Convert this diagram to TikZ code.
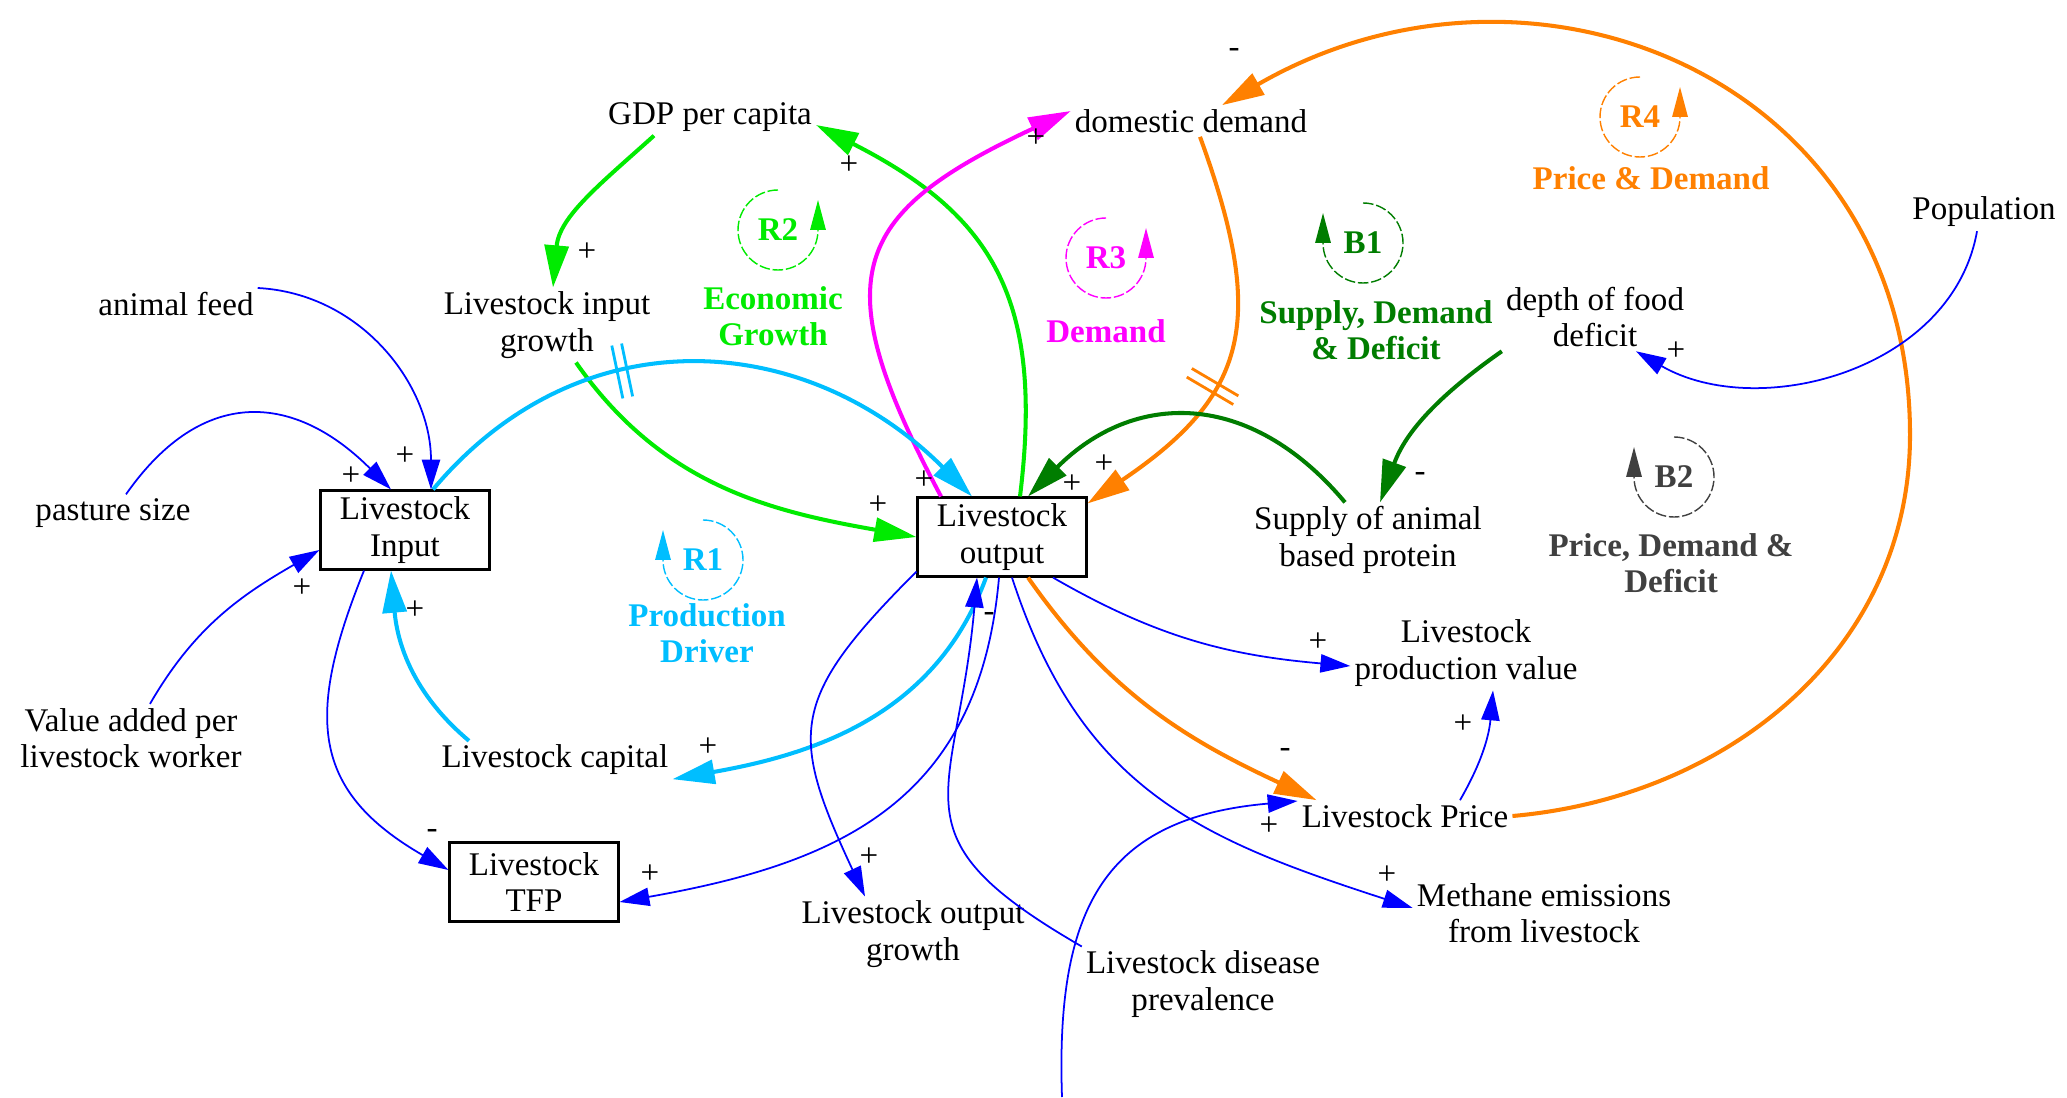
\documentclass[tikz,border=0pt]{standalone}
\usepackage{fontspec}
\setmainfont{Liberation Serif}
\usetikzlibrary{arrows.meta, decorations.markings}

\definecolor{lgreen}{RGB}{0,235,0}
\definecolor{dgreen}{RGB}{0,125,0}
\definecolor{lblue}{RGB}{0,190,255}
\definecolor{lorange}{RGB}{255,128,0}
\definecolor{lmagenta}{RGB}{255,0,255}
\definecolor{lgray}{RGB}{64,64,64}
\definecolor{lnblue}{RGB}{0,0,255}
\newcommand{\cldfont}{\fontsize{9.4}{10.4}\selectfont}

\begin{document}
\begin{tikzpicture}[
  font=\cldfont,
  var/.style={inner sep=1pt, align=center},
  stockbox/.style={draw, line width=0.6pt, minimum width=16.9mm, minimum height=7.9mm, inner sep=0pt, align=center},
  sgn/.style={inner sep=0pt},
  bluelink/.style={lnblue, line width=0.5pt, -{Triangle[length=8.5pt, width=5.2pt]}},
  thicklink/.style={line width=1.15pt, -{Triangle[length=12pt, width=6.8pt]}},
  loopid/.style={inner sep=0pt, font=\cldfont\bfseries},
  looplbl/.style={inner sep=0pt, align=center, font=\cldfont\bfseries},
  looparc/.style={line width=0.4pt, dash pattern=on 3pt off 0.8pt, -{Triangle[length=8.5pt, width=4.4pt]}},
  delaymark/.style={postaction={decorate}, decoration={markings, mark=at position #1 with {\draw[-, line width=0.8pt] (-0.5mm,-2.7mm) -- (-0.5mm,2.7mm) (0.5mm,-2.7mm) -- (0.5mm,2.7mm);}}}
]
\useasboundingbox (0,0) rectangle (20.67,-10.97);

% variables
\node[var] (gdp) at (7.10,-1.17) {GDP per capita};
\node[var] (dom) at (11.91,-1.21) {domestic demand};
\node[var] (feed) at (1.76,-3.04) {animal feed};
\node[var] (lig) at (5.47,-3.25) {Livestock input\\growth};
\node[var] (past) at (1.13,-5.13) {pasture size};
\node[stockbox] (lin) at (4.05,-5.30) {Livestock\\Input};
\node[var] (vadd) at (1.31,-7.38) {Value added per\\livestock worker};
\node[var] (cap) at (5.55,-7.60) {Livestock capital};
\node[stockbox] (tfp) at (5.34,-8.82) {Livestock\\TFP};
\node[stockbox] (lout) at (10.02,-5.37) {Livestock\\output};
\node[var] (outg) at (9.13,-9.34) {Livestock output\\growth};
\node[var] (dis) at (12.03,-9.84) {Livestock disease\\prevalence};
\node[var] (sup) at (13.68,-5.40) {Supply of animal\\based protein};
\node[var] (dep) at (15.95,-3.17) {depth of food\\deficit};
\node[var] (pop) at (19.84,-2.12) {Population};
\node[var] (lpv) at (14.66,-6.53) {Livestock\\production value};
\node[var] (price) at (14.05,-8.16) {Livestock Price};
\node[var] (meth) at (15.44,-9.13) {Methane emissions\\from livestock};
\coordinate (ext) at (10.62,-10.97);
\coordinate (arcr) at (19.10,-4.35);

% thick links
\draw[thicklink, lgreen] ([xshift=-5.6mm]gdp.south) to[out=222, in=85] ([xshift=0.6mm]lig.north);
\draw[thicklink, lgreen] ([xshift=2.9mm]lig.south) to[out=-55, in=170] (lout.west);
\draw[thicklink, lgreen] ([xshift=1.8mm]lout.north) to[out=83, in=-27, looseness=1.2] ([yshift=-0.8mm]gdp.east);
\draw[thicklink, lmagenta] ([xshift=-6.1mm]lout.north) to[out=118, in=205, looseness=1.55] ([yshift=1mm]dom.west);
\draw[thicklink, lorange, delaymark=0.6] ([xshift=0.9mm]dom.south) to[out=-70, in=34, looseness=1.3] ([yshift=-0.7mm]lout.north east);
\draw[thicklink, lorange] ([xshift=2.6mm]lout.south) to[out=-55, in=155] ([xshift=1.9mm]price.north west);
\draw[thicklink, lorange] (price.east) to[out=5, in=-90] (arcr) to[out=90, in=30, looseness=1.2] ([xshift=3.1mm]dom.north);
\draw[thicklink, dgreen] ([xshift=-2.3mm]sup.north) to[out=130, in=45, looseness=1.2] ([xshift=2.6mm]lout.north);
\draw[thicklink, dgreen] (dep.south west) to[out=-145, in=70] ([xshift=1.2mm]sup.north);
\draw[thicklink, lblue, delaymark=0.37] ([xshift=2.8mm]lin.north) to[out=50, in=135, looseness=1.1] ([xshift=-3mm]lout.north);
\draw[thicklink, lblue] ([xshift=-1.6mm]lout.south) to[out=-110, in=10] (cap.south east);
\draw[thicklink, lblue] ([xshift=-8.6mm]cap.north) to[out=140, in=-85] ([xshift=-1.4mm]lin.south);

% thin links
\draw[bluelink] (feed.north east) to[out=-3, in=90] ([xshift=2.6mm]lin.north);
\draw[bluelink] ([xshift=1.3mm]past.north) to[out=55, in=135, looseness=1.3] ([xshift=-1.4mm]lin.north);
\draw[bluelink] ([xshift=1.9mm]vadd.north) to[out=60, in=-150] ([yshift=-2mm]lin.west);
\draw[bluelink] ([xshift=-4.1mm]lin.south) to[out=-112, in=150, looseness=1.3] ([yshift=1.2mm]tfp.west);
\draw[bluelink] ([xshift=-0.3mm]lout.south) to[out=-95, in=10, looseness=1.15] ([yshift=-2mm]tfp.east);
\draw[bluelink] ([yshift=0.6mm]lout.south west) to[out=-135, in=115, looseness=1.4] ([xshift=-4.8mm]outg.north);
\draw[bluelink] (dis.north west) to[out=150, in=-95, looseness=1.5] ([xshift=-2.5mm]lout.south);
\draw[bluelink] ([xshift=1mm]lout.south) to[out=-72, in=162, looseness=1.1] ([yshift=0.5mm]meth.west);
\draw[bluelink] ([xshift=5.1mm]lout.south) to[out=-30, in=175] ([yshift=-1.3mm]lpv.west);
\draw[bluelink] ([xshift=5.5mm]price.north) to[out=60, in=-95] ([xshift=2.7mm]lpv.south);
\draw[bluelink] (ext) to[out=92, in=185, looseness=1.3] ([yshift=1.5mm]price.west);
\draw[bluelink] ([xshift=-0.7mm]pop.south) to[out=-100, in=-30] ([xshift=4.1mm]dep.south);

% polarities
\node[sgn] (s1) at (5.87,-2.52) {+};
\node[sgn] (s2) at (8.78,-5.05) {+};
\node[sgn] (s3) at (8.49,-1.65) {+};
\node[sgn] (s4) at (10.36,-1.38) {+};
\node[sgn] (s5) at (11.04,-4.64) {+};
\node[sgn] (s6) at (10.72,-4.84) {+};
\node[sgn] (s7) at (9.24,-4.80) {+};
\node[sgn] (s8) at (14.20,-4.77) {-};
\node[sgn] (s9) at (12.34,-0.53) {-};
\node[sgn] (s10) at (12.85,-7.53) {-};
\node[sgn] (s11) at (12.69,-8.26) {+};
\node[sgn] (s12) at (14.63,-7.24) {+};
\node[sgn] (s13) at (13.18,-6.42) {+};
\node[sgn] (s14) at (13.87,-8.75) {+};
\node[sgn] (s15) at (16.76,-3.51) {+};
\node[sgn] (s16) at (9.89,-6.17) {-};
\node[sgn] (s17) at (8.69,-8.57) {+};
\node[sgn] (s18) at (6.50,-8.74) {+};
\node[sgn] (s19) at (4.32,-8.34) {-};
\node[sgn] (s20) at (7.08,-7.47) {+};
\node[sgn] (s21) at (4.15,-6.10) {+};
\node[sgn] (s22) at (3.02,-5.88) {+};
\node[sgn] (s23) at (3.51,-4.76) {+};
\node[sgn] (s24) at (4.05,-4.56) {+};

% loop markers
\node[loopid, text=lgreen] (r2) at (7.78,-2.30) {R2};
\draw[looparc, lgreen] ([yshift=4mm]r2.center) arc[start angle=90, end angle=360, radius=4mm] -- ++(0,3mm);
\node[looplbl, text=lgreen] (r2l) at (7.73,-3.16) {Economic\\Growth};
\node[loopid, text=lmagenta] (r3) at (11.06,-2.58) {R3};
\draw[looparc, lmagenta] ([yshift=4mm]r3.center) arc[start angle=90, end angle=360, radius=4mm] -- ++(0,3mm);
\node[looplbl, text=lmagenta] (r3l) at (11.06,-3.31) {Demand};
\node[loopid, text=dgreen] (b1) at (13.63,-2.43) {B1};
\draw[looparc, dgreen] ([yshift=4mm]b1.center) arc[start angle=90, end angle=-180, radius=4mm] -- ++(0,3mm);
\node[looplbl, text=dgreen] (b1l) at (13.76,-3.30) {Supply, Demand\\\& Deficit};
\node[loopid, text=lorange] (r4) at (16.40,-1.17) {R4};
\draw[looparc, lorange] ([yshift=4mm]r4.center) arc[start angle=90, end angle=360, radius=4mm] -- ++(0,3mm);
\node[looplbl, text=lorange] (r4l) at (16.51,-1.78) {Price \& Demand};
\node[loopid, text=lgray] (b2) at (16.74,-4.77) {B2};
\draw[looparc, lgray] ([yshift=4mm]b2.center) arc[start angle=90, end angle=-180, radius=4mm] -- ++(0,3mm);
\node[looplbl, text=lgray] (b2l) at (16.71,-5.63) {Price, Demand \&\\Deficit};
\node[loopid, text=lblue] (r1) at (7.03,-5.60) {R1};
\draw[looparc, lblue] ([yshift=4mm]r1.center) arc[start angle=90, end angle=-180, radius=4mm] -- ++(0,3mm);
\node[looplbl, text=lblue] (r1l) at (7.07,-6.33) {Production\\Driver};
\end{tikzpicture}
\end{document}
